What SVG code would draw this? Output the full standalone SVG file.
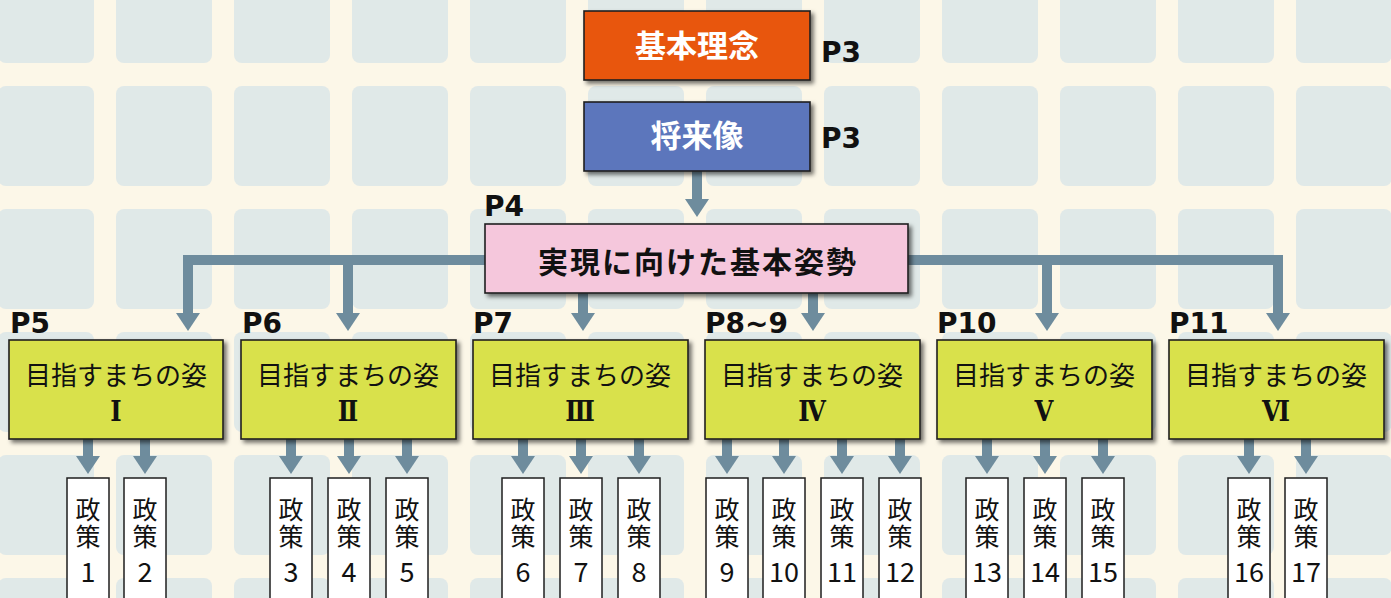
<svg xmlns="http://www.w3.org/2000/svg" width="1391" height="598" viewBox="0 0 1391 598">
<defs>
<pattern id="tiles" x="-3" y="-38" width="118" height="123" patternUnits="userSpaceOnUse">
<rect x="0" y="0" width="118" height="123" fill="#fcf7e8"/>
<rect x="1" y="1" width="96" height="100" rx="8" fill="#e0e9e8"/>
</pattern>
<filter id="sh" x="-10%" y="-10%" width="130%" height="140%">
<feDropShadow dx="3" dy="3" stdDeviation="2" flood-color="#000" flood-opacity="0.55"/>
</filter>
<marker id="ah" viewBox="0 -12 18 24" refX="0" refY="0" markerWidth="18" markerHeight="24" markerUnits="userSpaceOnUse" orient="auto">
<path d="M0,-12 L18,0 L0,12 Z" fill="#6e8c9d"/>
</marker>
<style>
.con{fill:none;stroke:#6e8c9d;stroke-width:10}
.arr{fill:none;stroke:#6e8c9d;stroke-width:10;marker-end:url(#ah)}
.box{stroke:#1e1e1e;stroke-width:1.6;filter:url(#sh)}
.yel{fill:#d9e14b}
.pol{fill:#ffffff;stroke:#1e1e1e;stroke-width:1.5}
.pg{font-family:"DejaVu Sans","Liberation Sans",sans-serif;font-weight:bold;font-size:28px;fill:#111}
.jb{font-family:"Noto Sans CJK JP",sans-serif;font-weight:bold;text-anchor:middle}
.yt{font-family:"Noto Sans CJK JP",sans-serif;font-size:26px;fill:#111;text-anchor:middle}
.rn{font-family:"DejaVu Serif Condensed","DejaVu Serif",serif;font-weight:bold;font-size:27px;fill:#111;text-anchor:middle}
.pt{font-family:"Noto Sans CJK JP",sans-serif;font-size:25px;fill:#111;writing-mode:vertical-rl;letter-spacing:1.5px}
.pn{font-family:"Noto Sans CJK JP",sans-serif;font-size:27px;fill:#111;text-anchor:middle}
</style>
</defs>
<rect x="0" y="0" width="1391" height="598" fill="url(#tiles)"/>

<g id="connectors">
<path class="arr" d="M697,171 V199"/>
<path class="con" d="M188,318 V260 H1278 V318"/>
<path class="arr" d="M188,260 V313"/>
<path class="arr" d="M348,260 V313"/>
<path class="arr" d="M583,293 V313"/>
<path class="arr" d="M813,293 V313"/>
<path class="arr" d="M1047,260 V313"/>
<path class="arr" d="M1278,260 V313"/>
<path class="arr" d="M88,439 V456"/>
<path class="arr" d="M145,439 V456"/>
<path class="arr" d="M291,439 V456"/>
<path class="arr" d="M349,439 V456"/>
<path class="arr" d="M407,439 V456"/>
<path class="arr" d="M523,439 V456"/>
<path class="arr" d="M581,439 V456"/>
<path class="arr" d="M639,439 V456"/>
<path class="arr" d="M727,439 V456"/>
<path class="arr" d="M784,439 V456"/>
<path class="arr" d="M842,439 V456"/>
<path class="arr" d="M900,439 V456"/>
<path class="arr" d="M987,439 V456"/>
<path class="arr" d="M1045,439 V456"/>
<path class="arr" d="M1103,439 V456"/>
<path class="arr" d="M1249,439 V456"/>
<path class="arr" d="M1306,439 V456"/>
</g>

<g id="kihon-rinen">
<rect class="box" x="584" y="11" width="226" height="69" fill="#e8560b"/>
<text class="jb" x="697" y="57" font-size="31" fill="#fff">基本理念</text>
<text class="pg" x="821" y="62" font-size="30">P3</text>
</g>
<g id="shoraizo">
<rect class="box" x="584" y="102" width="226" height="69" fill="#5b76bc"/>
<text class="jb" x="697" y="147" font-size="31" fill="#fff">将来像</text>
<text class="pg" x="821" y="148" font-size="30">P3</text>
</g>
<g id="kihon-shisei">
<rect class="box" x="485" y="224" width="423" height="69" fill="#f5c7dc"/>
<text class="jb" x="698" y="273" font-size="30" fill="#111" letter-spacing="2">実現に向けた基本姿勢</text>
<text class="pg" x="484" y="216">P4</text>
</g>

<g id="sugata1">
<rect class="box yel" x="9" y="340" width="214" height="99"/>
<text class="yt" x="116" y="385">目指すまちの姿</text>
<text class="rn" x="116" y="421">Ⅰ</text>
<text class="pg" x="10" y="333">P5</text>
</g>
<g id="sugata2">
<rect class="box yel" x="241" y="340" width="215" height="99"/>
<text class="yt" x="348" y="385">目指すまちの姿</text>
<text class="rn" x="348" y="421">Ⅱ</text>
<text class="pg" x="242" y="333">P6</text>
</g>
<g id="sugata3">
<rect class="box yel" x="473" y="340" width="215" height="99"/>
<text class="yt" x="580" y="385">目指すまちの姿</text>
<text class="rn" x="580" y="421">Ⅲ</text>
<text class="pg" x="473" y="333">P7</text>
</g>
<g id="sugata4">
<rect class="box yel" x="705" y="340" width="215" height="99"/>
<text class="yt" x="812" y="385">目指すまちの姿</text>
<text class="rn" x="812" y="421">Ⅳ</text>
<text class="pg" x="705" y="333">P8~9</text>
</g>
<g id="sugata5">
<rect class="box yel" x="937" y="340" width="215" height="99"/>
<text class="yt" x="1044" y="385">目指すまちの姿</text>
<text class="rn" x="1044" y="421">Ⅴ</text>
<text class="pg" x="937" y="333">P10</text>
</g>
<g id="sugata6">
<rect class="box yel" x="1169" y="340" width="215" height="99"/>
<text class="yt" x="1276" y="385">目指すまちの姿</text>
<text class="rn" x="1276" y="421">Ⅵ</text>
<text class="pg" x="1169" y="333">P11</text>
</g>

<g id="seisaku1"><rect class="pol" x="67" y="478" width="42" height="130"/><text class="pt" x="88" y="497">政策</text><text class="pn" x="88" y="582">1</text></g>
<g id="seisaku2"><rect class="pol" x="124" y="478" width="42" height="130"/><text class="pt" x="145" y="497">政策</text><text class="pn" x="145" y="582">2</text></g>
<g id="seisaku3"><rect class="pol" x="270" y="478" width="42" height="130"/><text class="pt" x="291" y="497">政策</text><text class="pn" x="291" y="582">3</text></g>
<g id="seisaku4"><rect class="pol" x="328" y="478" width="42" height="130"/><text class="pt" x="349" y="497">政策</text><text class="pn" x="349" y="582">4</text></g>
<g id="seisaku5"><rect class="pol" x="386" y="478" width="42" height="130"/><text class="pt" x="407" y="497">政策</text><text class="pn" x="407" y="582">5</text></g>
<g id="seisaku6"><rect class="pol" x="502" y="478" width="42" height="130"/><text class="pt" x="523" y="497">政策</text><text class="pn" x="523" y="582">6</text></g>
<g id="seisaku7"><rect class="pol" x="560" y="478" width="42" height="130"/><text class="pt" x="581" y="497">政策</text><text class="pn" x="581" y="582">7</text></g>
<g id="seisaku8"><rect class="pol" x="618" y="478" width="42" height="130"/><text class="pt" x="639" y="497">政策</text><text class="pn" x="639" y="582">8</text></g>
<g id="seisaku9"><rect class="pol" x="706" y="478" width="42" height="130"/><text class="pt" x="727" y="497">政策</text><text class="pn" x="727" y="582">9</text></g>
<g id="seisaku10"><rect class="pol" x="763" y="478" width="42" height="130"/><text class="pt" x="784" y="497">政策</text><text class="pn" x="784" y="582">10</text></g>
<g id="seisaku11"><rect class="pol" x="821" y="478" width="42" height="130"/><text class="pt" x="842" y="497">政策</text><text class="pn" x="842" y="582">11</text></g>
<g id="seisaku12"><rect class="pol" x="879" y="478" width="42" height="130"/><text class="pt" x="900" y="497">政策</text><text class="pn" x="900" y="582">12</text></g>
<g id="seisaku13"><rect class="pol" x="966" y="478" width="42" height="130"/><text class="pt" x="987" y="497">政策</text><text class="pn" x="987" y="582">13</text></g>
<g id="seisaku14"><rect class="pol" x="1024" y="478" width="42" height="130"/><text class="pt" x="1045" y="497">政策</text><text class="pn" x="1045" y="582">14</text></g>
<g id="seisaku15"><rect class="pol" x="1082" y="478" width="42" height="130"/><text class="pt" x="1103" y="497">政策</text><text class="pn" x="1103" y="582">15</text></g>
<g id="seisaku16"><rect class="pol" x="1228" y="478" width="42" height="130"/><text class="pt" x="1249" y="497">政策</text><text class="pn" x="1249" y="582">16</text></g>
<g id="seisaku17"><rect class="pol" x="1285" y="478" width="42" height="130"/><text class="pt" x="1306" y="497">政策</text><text class="pn" x="1306" y="582">17</text></g>
</svg>
